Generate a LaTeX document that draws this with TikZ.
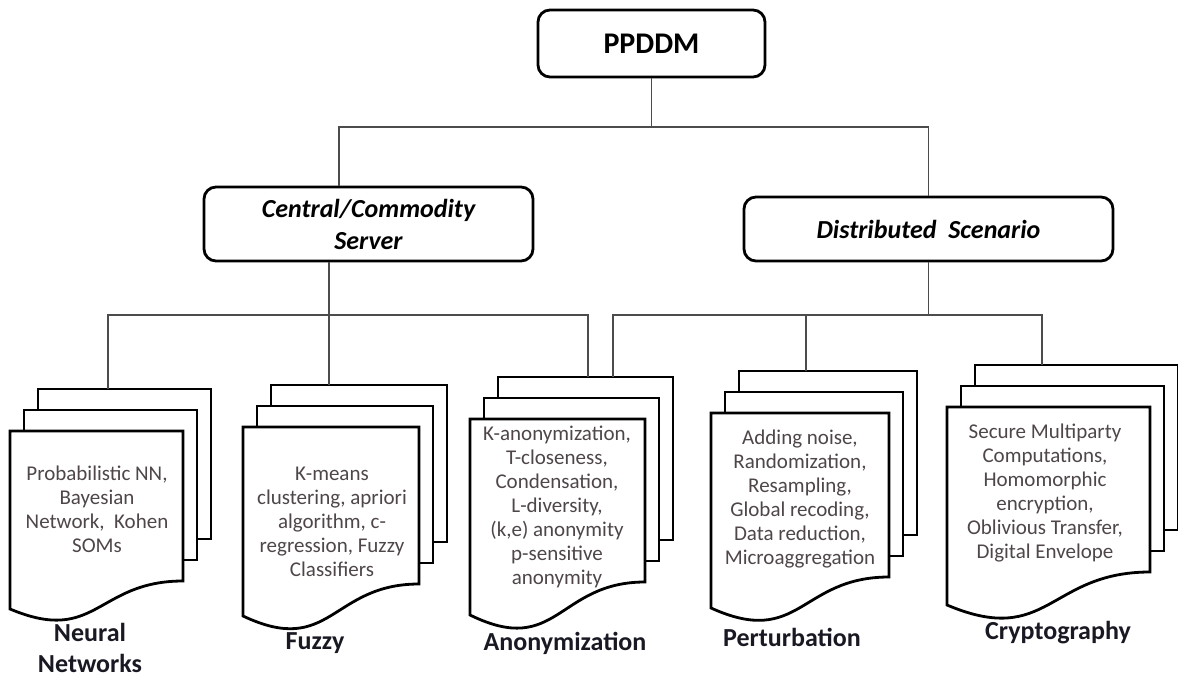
\documentclass[tikz,border=0pt]{standalone}
\usepackage{fontspec}
\setmainfont{Carlito}
\usetikzlibrary{positioning}

\definecolor{bodygray}{RGB}{78,70,72}
\definecolor{labelblack}{RGB}{25,25,35}

% stack of three pages, front page with wavy bottom
% #1 name, #2 left, #3 top, #4 width, #5 height, #6 dip of the wave
\newcommand{\pagestack}[6]{%
  \draw[page] (#2+28,#3-42) rectangle ++(#4,#5);
  \draw[page] (#2+14,#3-21) rectangle ++(#4,#5);
  \draw[page] (#2,#3) -- ++(#4,0) -- ++(0,#5)
    .. controls (#2+#4/2,#3+#5) and (#2+#4/2,#3+#5+2.3*#6) .. (#2,#3+#5+#6) -- cycle;
  \coordinate (#1-top) at (#2+28,#3-42);
}

\begin{document}
\begin{tikzpicture}[
  x=0.5pt, y=-0.5pt,
  box/.style={rectangle, draw=black, rounded corners=6pt, line width=1.4pt,
              align=center, inner sep=2pt},
  topbox/.style={box, minimum width=113.5pt, minimum height=33.5pt,
                 font=\fontsize{15}{18}\selectfont\bfseries},
  midbox/.style={box, font=\fontsize{13}{16}\selectfont\bfseries\itshape},
  page/.style={draw=black, line width=1.4pt, fill=white, line join=miter},
  pagetext/.style={align=center, text=bodygray, font=\fontsize{10.5}{12}\selectfont},
  stacklabel/.style={align=center, text=labelblack,
                     font=\fontsize{13}{15.5}\selectfont\bfseries},
  link/.style={draw=black!70, line width=0.7pt}
]
\useasboundingbox (0,0) rectangle (1178,679);

\node[topbox] (ppddm) at (651.5,43.5) {PPDDM};
\node[midbox, minimum width=164.5pt, minimum height=37pt] (central) at (368.5,224) {Central/Commodity\\Server};
\node[midbox, minimum width=184.5pt, minimum height=32pt] (dist) at (928.5,229) {Distributed~ Scenario};

\pagestack{nn}{10}{431}{173}{150}{28}
\pagestack{fz}{243}{427}{176}{157}{32}
\pagestack{an}{470}{419}{175}{163}{33}
\pagestack{pt}{711}{413}{178}{164}{31}
\pagestack{cr}{947}{407}{203}{165}{33}

\node[pagetext] (nn-text) at (97,509) {Probabilistic NN,\\Bayesian\\Network,~ Kohen\\SOMs};
\node[pagetext] (fz-text) at (332,522) {K-means\\clustering, apriori\\algorithm, c-\\regression, Fuzzy\\Classifiers};
\node[pagetext] (an-text) at (557,507) {K-anonymization,\\T-closeness,\\Condensation,\\L-diversity,\\(k,e) anonymity\\p-sensitive\\anonymity};
\node[pagetext] (pt-text) at (800,499) {Adding noise,\\Randomization,\\Resampling,\\Global recoding,\\Data reduction,\\Microaggregation};
\node[pagetext] (cr-text) at (1045,493) {Secure Multiparty\\Computations,\\Homomorphic\\encryption,\\Oblivious Transfer,\\Digital Envelope};

\node[stacklabel] (nn-label) at (90,648) {Neural\\Networks};
\node[stacklabel] (fz-label) at (315,643) {Fuzzy};
\node[stacklabel] (an-label) at (565,643) {Anonymization};
\node[stacklabel] (pt-label) at (792,637) {Perturbation};
\node[stacklabel] (cr-label) at (1058,633) {Cryptography};

\coordinate (top-bus) at (339,127);
\coordinate (central-drop) at (329,0 |- central.south);
\coordinate (left-bus-w) at (108,315);
\coordinate (left-bus-e) at (588,315);
\coordinate (right-bus-w) at (613,315);
\coordinate (right-bus-e) at (1042,315);
\coordinate (pt-drop) at (806,315);

\draw[link] (ppddm.south) |- (top-bus) -- (top-bus |- central.north);
\draw[link] (top-bus) -| (dist.north);
\draw[link] (central-drop) -- (central-drop |- fz-top);
\draw[link] (left-bus-w |- nn-top) -- (left-bus-w) -- (left-bus-e) -- (left-bus-e |- an-top);
\draw[link] (dist.south) -- (dist.south |- right-bus-w);
\draw[link] (right-bus-w |- an-top) -- (right-bus-w) -- (right-bus-e) -- (right-bus-e |- cr-top);
\draw[link] (pt-drop) -- (pt-drop |- pt-top);
\end{tikzpicture}
\end{document}
